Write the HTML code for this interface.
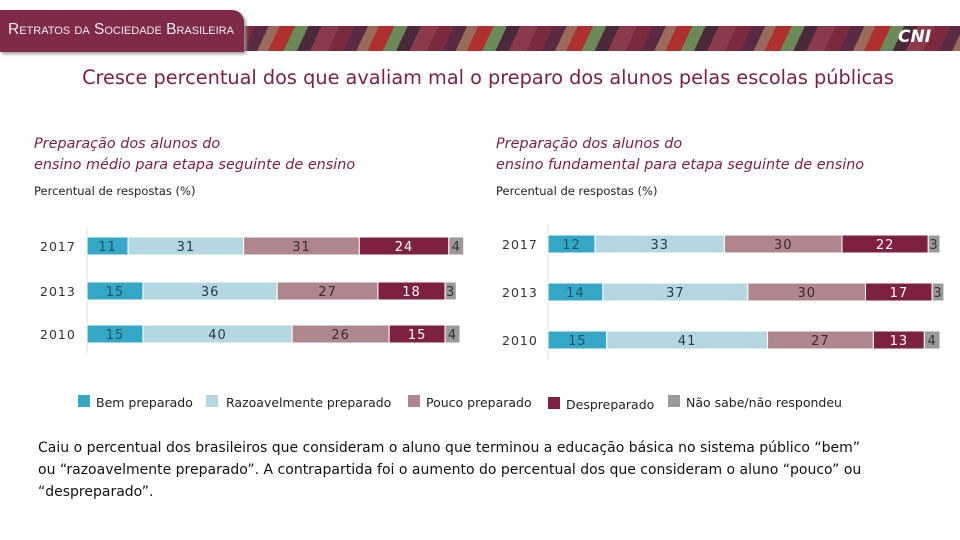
<!DOCTYPE html>
<html><head><meta charset="utf-8"><style>
body{margin:0;width:960px;height:540px;background:#fff;font-family:"DejaVu Sans","Liberation Sans",sans-serif;position:relative;overflow:hidden}
.abs{position:absolute}
</style></head><body>
<div class="abs" style="left:240px;top:26px;width:720px;height:25px;background:repeating-linear-gradient(115deg,#7a2a3c 0 14px,#5a2a44 14px 26px,#9a6a5a 26px 36px,#b03030 36px 50px,#6a8a5a 50px 62px,#4a2a3a 62px 74px,#8a3a4a 74px 90px)"></div>
<div class="abs" style="left:0;top:10px;width:244px;height:42px;background:#7e2a48;border-top-right-radius:12px;box-shadow:2px 2px 3px #999"></div>
<div class="abs" style="left:8px;top:21px;color:#eee;font-family:'Liberation Sans Narrow','Liberation Sans',sans-serif;font-size:15.5px;font-variant:small-caps;white-space:nowrap">Retratos da Sociedade Brasileira</div>
<div class="abs" style="left:898px;top:27px;color:#fff;font-weight:bold;font-style:italic;font-size:17px">CNI</div>
<div class="abs" style="left:0;width:976px;top:66px;text-align:center;color:#7e2140;font-size:19.3px;white-space:nowrap">Cresce percentual dos que avaliam mal o preparo dos alunos pelas escolas públicas</div>
<div class="abs" style="left:34px;top:134px;color:#7e2140;font-style:italic;font-size:14.4px;line-height:21px">Preparação dos alunos do<br>ensino médio para etapa seguinte de ensino</div>
<div class="abs" style="left:496px;top:134px;color:#7e2140;font-style:italic;font-size:14.4px;line-height:21px">Preparação dos alunos do<br>ensino fundamental para etapa seguinte de ensino</div>
<div class="abs" style="left:34px;top:184px;font-size:11.5px;color:#222">Percentual de respostas (%)</div>
<div class="abs" style="left:496px;top:184px;font-size:11.5px;color:#222">Percentual de respostas (%)</div>
<svg class="abs" style="left:0;top:0" width="960" height="540" id="chart"></svg>
<div class="abs" style="left:78px;top:395px;font-size:12.5px;color:#222;width:880px;height:20px">
<span class="abs" style="left:0;top:0;white-space:nowrap"><i style="display:inline-block;width:12px;height:12px;background:#35a8c8;margin-right:6px"></i>Bem preparado</span>
<span class="abs" style="left:128px;top:0;white-space:nowrap"><i style="display:inline-block;width:12px;height:12px;background:#b4d7e1;margin-right:8px"></i>Razoavelmente preparado</span>
<span class="abs" style="left:330px;top:0;white-space:nowrap"><i style="display:inline-block;width:12px;height:12px;background:#b0868e;margin-right:6px"></i>Pouco preparado</span>
<span class="abs" style="left:470px;top:2px;white-space:nowrap"><i style="display:inline-block;width:12px;height:12px;background:#7e2140;margin-right:6px"></i>Despreparado</span>
<span class="abs" style="left:590px;top:0;white-space:nowrap"><i style="display:inline-block;width:12px;height:12px;background:#9a9a9a;margin-right:6px"></i>Não sabe/não respondeu</span>
</div>
<div class="abs" style="left:38px;top:437px;width:835px;font-size:14px;line-height:22px;color:#111">Caiu o percentual dos brasileiros que consideram o aluno que terminou a educação básica no sistema público “bem” ou “razoavelmente preparado”. A contrapartida foi o aumento do percentual dos que consideram o aluno “pouco” ou “despreparado”.</div>
<script>
const years=["2017","2013","2010"];
const leftBem=[11,15,15],leftRaz=[31,36,40],leftPouco=[31,27,26],leftDesp=[24,18,15],leftNS=[4,3,4];
const rightBem=[12,14,15],rightRaz=[33,37,41],rightPouco=[30,30,27],rightDesp=[22,17,13],rightNS=[3,3,4];
const colors=["#35a8c8","#b4d7e1","#b0868e","#7e2140","#9a9a9a"];
const txtCol=["#1d5566","#2a3a48","#3a2a30","#ffffff","#333"];
const svg=document.getElementById('chart');
const NS="http://www.w3.org/2000/svg";
function draw(side,x0,scale,ys,h,series,labX){
  const ax=document.createElementNS(NS,'line');
  
  
  ax.setAttribute('x1',x0);ax.setAttribute('x2',x0);ax.setAttribute('y1',ys[0]-10);ax.setAttribute('y2',ys[2]+h+10);
  ax.setAttribute('stroke','#ddd');svg.appendChild(ax);
  years.forEach((yr,i)=>{
    const t=document.createElementNS(NS,'text');
    
    
    t.setAttribute('x',labX);t.setAttribute('y',ys[i]+h/2+5);t.setAttribute('font-size','12.5');t.setAttribute('fill','#333');t.setAttribute('letter-spacing','1');
    t.textContent=yr;svg.appendChild(t);
    let x=x0;
    series.forEach((s,k)=>{
      const w=s[i]*scale;
      const r=document.createElementNS(NS,'rect');
      
      
      r.setAttribute('x',x);r.setAttribute('y',ys[i]);r.setAttribute('width',w);r.setAttribute('height',h);
      r.setAttribute('fill',colors[k]);r.setAttribute('stroke','#fff');r.setAttribute('stroke-width','1');svg.appendChild(r);
      const v=document.createElementNS(NS,'text');
      
      
      v.setAttribute('x',x+w/2);v.setAttribute('y',ys[i]+h/2+5);v.setAttribute('text-anchor','middle');
      v.setAttribute('font-size','13');v.setAttribute('fill',txtCol[k]);v.setAttribute('letter-spacing','1');
      v.textContent=s[i];svg.appendChild(v);
      x+=w;
    });
  });
}
draw('left',87,3.73,[237,282,325],18,[leftBem,leftRaz,leftPouco,leftDesp,leftNS],40);
draw('right',548,3.92,[235,283,331],18,[rightBem,rightRaz,rightPouco,rightDesp,rightNS],502);
</script>
</body></html>
